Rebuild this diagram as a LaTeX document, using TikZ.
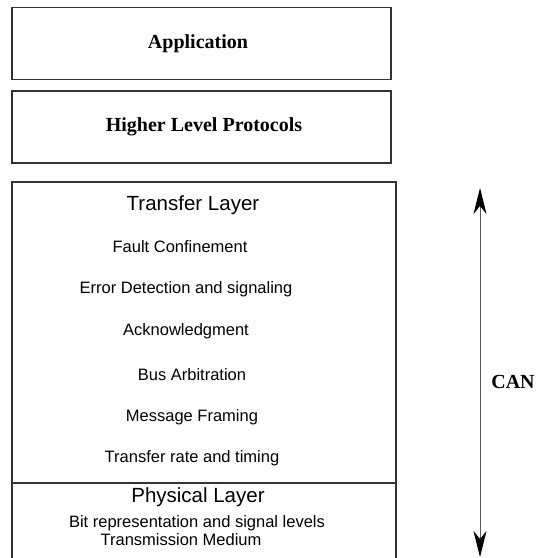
\documentclass[tikz,border=0pt]{standalone}
\usepackage{fontspec}
\setmainfont{Liberation Serif}
\setsansfont{Liberation Sans}
\usetikzlibrary{arrows.meta}
\tikzset{canhead/.tip={Stealth[length=26pt,width=13pt,inset=8pt,color=black]}}
\begin{document}
\begin{tikzpicture}[x=1pt,y=-1pt,
  layerbox/.style={draw=black!80,line width=1.2pt,inner sep=0pt},
  boldlabel/.style={font=\rmfamily\bfseries\fontsize{20}{22}\selectfont,inner sep=0pt},
  headlabel/.style={font=\sffamily\fontsize{20.5}{22}\selectfont,inner sep=0pt},
  itemlabel/.style={font=\sffamily\fontsize{16.5}{18}\selectfont,inner sep=0pt}]
  \useasboundingbox (0,0) rectangle (537,558);

  % upper layers
  \node[layerbox,minimum width=379pt,minimum height=72pt] (app) at (201.5,43.5) {};
  \node[boldlabel] (apptext) at (198,44) {Application};
  \node[layerbox,minimum width=379pt,minimum height=72pt] (hlp) at (201.5,127) {};
  \node[boldlabel] (hlptext) at (204,127) {Higher Level Protocols};

  % CAN layers
  \draw[draw=black!80,line width=1.2pt] (12,182) rectangle (396,570);
  \draw[draw=black!80,line width=1.2pt] (12,483) -- (396,483);

  \node[headlabel] (transfer) at (193,205) {Transfer Layer};
  \node[itemlabel] (fault) at (180,247) {Fault Confinement};
  \node[itemlabel] (error) at (186,289) {Error Detection and signaling};
  \node[itemlabel] (ack) at (186,331) {Acknowledgment};
  \node[itemlabel] (arb) at (192,375) {Bus Arbitration};
  \node[itemlabel] (framing) at (192,417) {Message Framing};
  \node[itemlabel] (rate) at (192,458) {Transfer rate and timing};

  \node[headlabel] (physical) at (198,497) {Physical Layer};
  \node[itemlabel] (bits) at (197,523) {Bit representation and signal levels};
  \node[itemlabel] (medium) at (181,540) {Transmission Medium};

  % extent of CAN
  \coordinate (cantop) at (480,188);
  \coordinate (canbot) at (480,557);
  \draw[black!65,line width=1pt,canhead-canhead] (cantop) -- (canbot);
  \node[boldlabel] (can) at (513,382) {CAN};
\end{tikzpicture}
\end{document}
